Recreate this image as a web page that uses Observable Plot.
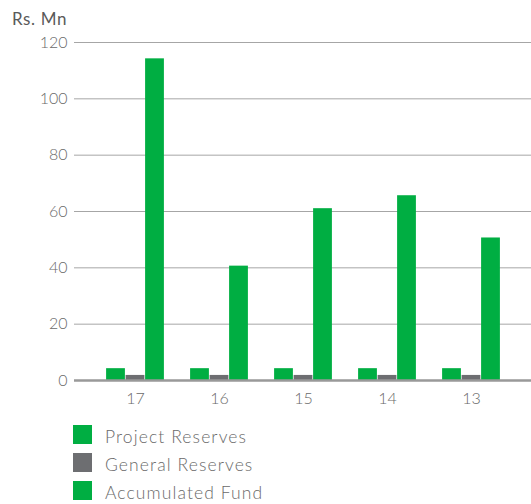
<!DOCTYPE html>
<html>
<head>
<meta charset="utf-8">
<script src="https://cdn.jsdelivr.net/npm/d3@7"></script>
<script src="https://cdn.jsdelivr.net/npm/@observablehq/plot@0.6"></script>
<style>
  html, body { margin: 0; padding: 0; background: #fff; }
  body { width: 531px; height: 504px; overflow: hidden; font-family: Lato, "Open Sans", sans-serif; }
  #wrap { position: relative; width: 531px; }
  #unit { position: absolute; left: 12px; top: 8px; font-size: 17px; letter-spacing: 0.6px; color: #5a5a5a; }
  #legend { position: absolute; left: 73px; top: 420px; }
  .row { display: flex; align-items: center; height: 28px; }
  .sw { width: 19px; height: 19px; margin-right: 13px; }
  .lab { font-size: 17.5px; letter-spacing: 1.1px; color: #6a6a6a; font-weight: 300; position: relative; top: 2px; }
</style>
</head>
<body>
<div id="wrap">
  <div id="chart"></div>
  <div id="unit">Rs. Mn</div>
  <div id="legend"></div>
</div>
<script>
const years = ["17", "16", "15", "14", "13"];
const projectReserves = [4.2, 4.2, 4.2, 4.2, 4.2];
const generalReserves = [1.8, 1.8, 1.8, 1.8, 1.8];
const accumulatedFund = [114.2, 40.6, 61.0, 65.6, 50.6];
const seriesNames = ["Project Reserves", "General Reserves", "Accumulated Fund"];
const seriesColors = ["#00ae42", "#6d6e71", "#00ae42"];
const yTicks = [0, 20, 40, 60, 80, 100, 120];

const rows = (vals) => years.map((y, i) => ({year: y, value: vals[i]}));
const inset = 32.6;
const barW = 19.5;

const plot = Plot.plot({
  width: 531,
  height: 410,
  marginLeft: 74,
  marginRight: 0,
  marginTop: 42,
  marginBottom: 30,
  style: {fontFamily: "Lato, 'Open Sans', sans-serif", color: "#6a6a6a", background: "#fff"},
  x: {type: "band", domain: years, paddingInner: 0, paddingOuter: 0.19, align: 0.5},
  y: {domain: [0, 120]},
  marks: [
    Plot.ruleY(yTicks.filter(d => d > 0), {stroke: "#a6a6a6", strokeWidth: 1}),
    Plot.barY(rows(projectReserves), {x: "year", y: "value", fill: seriesColors[0], insetLeft: inset, insetRight: inset, dx: -barW}),
    Plot.barY(rows(generalReserves), {x: "year", y: "value", fill: seriesColors[1], insetLeft: inset, insetRight: inset}),
    Plot.barY(rows(accumulatedFund), {x: "year", y: "value", fill: seriesColors[2], insetLeft: inset, insetRight: inset, dx: barW}),
    Plot.ruleY([0], {stroke: "#999", strokeWidth: 2.5}),
    Plot.axisY({ticks: yTicks, tickSize: 0, tickPadding: 7, fontSize: 16, fontWeight: 300, label: null}),
    Plot.axisX({tickSize: 0, tickPadding: 12, fontSize: 16, fontWeight: 300, label: null})
  ]
});
document.getElementById("chart").appendChild(plot);

const legend = document.getElementById("legend");
seriesNames.forEach((name, i) => {
  const row = document.createElement("div");
  row.className = "row";
  const sw = document.createElement("div");
  sw.className = "sw";
  sw.style.background = seriesColors[i];
  const lab = document.createElement("span");
  lab.className = "lab";
  lab.textContent = name;
  row.appendChild(sw);
  row.appendChild(lab);
  legend.appendChild(row);
});
</script>
</body>
</html>
